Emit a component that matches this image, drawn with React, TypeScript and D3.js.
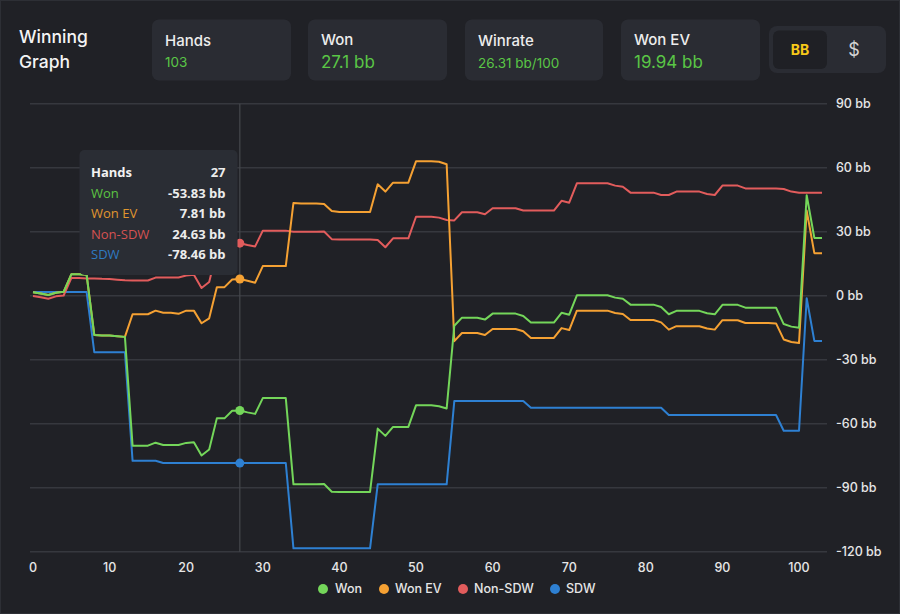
import React from "react";
import * as d3 from "d3";

// ---------- DATA ----------
const hands: number[] = Array.from({ length: 104 }, (_, i) => i);

const sdw: number[] = [
  1.7, 1.7, 1.7, 1.7, 1.7, 1.7, 1.7, 1.7,
  -26.5, -26.5, -26.5, -26.5, -26.5,
  -77.4, -77.4, -77.4, -77.4,
  -78.46, -78.46, -78.46, -78.46, -78.46, -78.46, -78.46, -78.46, -78.46, -78.46, -78.46, -78.46, -78.46, -78.46, -78.46, -78.46, -78.46,
  -118.4, -118.4, -118.4, -118.4, -118.4, -118.4, -118.4, -118.4, -118.4, -118.4, -118.4,
  -88.4, -88.4, -88.4, -88.4, -88.4, -88.4, -88.4, -88.4, -88.4, -88.4,
  -49.4, -49.4, -49.4, -49.4, -49.4, -49.4, -49.4, -49.4, -49.4, -49.4,
  -52.5, -52.5, -52.5, -52.5, -52.5, -52.5, -52.5, -52.5, -52.5, -52.5, -52.5, -52.5, -52.5, -52.5, -52.5, -52.5, -52.5, -52.5,
  -55.9, -55.9, -55.9, -55.9, -55.9, -55.9, -55.9, -55.9, -55.9, -55.9, -55.9, -55.9, -55.9, -55.9, -55.9,
  -63.3, -63.3, -63.3,
  -1.2,
  -21.2, -21.2,
];

const nonSdw: number[] = [
  -0.1, -0.7, -1.4, -0.3, 0.1, 8.3, 8.3, 8.1, 8.1, 7.9, 7.8, 7.5, 7.2,
  7.1, 7.1, 7.1, 8.5, 8.5, 8.5, 8.5, 9.5, 9.8, 3.6, 6.4, 21.0, 21.0, 24.6,
  24.63, 23.8, 23.1, 30.5, 30.5, 30.5, 30.5, 30.0, 30.0, 30.0, 30.0, 30.1,
  26.5, 26.4, 26.4, 26.4, 26.4, 26.4, 26.1, 22.7, 26.9, 26.9, 26.9, 37.0,
  37.0, 37.0, 36.6, 35.5, 35.3, 39.1, 39.1, 39.1, 38.2, 41.0, 41.0, 41.0,
  41.0, 39.9, 39.9, 39.9, 39.9, 39.9, 44.5, 43.6, 52.7, 52.7, 52.7, 52.7,
  52.7, 51.6, 51.1, 48.3, 48.3, 48.3, 48.3, 47.2, 47.2, 48.8, 48.8, 48.8,
  48.8, 47.7, 47.2, 51.6, 51.6, 51.6, 50.3, 50.3, 50.3, 50.3, 50.3, 50.0,
  48.8, 48.3, 48.3, 48.3, 48.3,
];

const won: number[] = [
  1.6, 1.0, 0.3, 1.4, 1.8, 10.0, 10.0, 9.8, -18.4, -18.6, -18.7, -19.0, -19.3,
  -70.3, -70.3, -70.3, -68.9, -70.0, -70.0, -70.0, -69.0, -68.7, -74.9, -72.1,
  -57.5, -57.5, -53.9, -53.83, -54.7, -55.4, -48.0, -48.0, -48.0, -48.0,
  -88.4, -88.4, -88.4, -88.4, -88.3, -91.9, -92.0, -92.0, -92.0, -92.0, -92.0,
  -62.3, -65.7, -61.5, -61.5, -61.5, -51.4, -51.4, -51.4, -51.8, -52.9,
  -14.1, -10.3, -10.3, -10.3, -11.2, -8.4, -8.4, -8.4, -8.4, -9.5, -12.6,
  -12.6, -12.6, -12.6, -8.0, -8.9, 0.2, 0.2, 0.2, 0.2, 0.2, -0.9, -1.4, -4.2,
  -4.2, -4.2, -4.2, -5.3, -8.7, -7.1, -7.1, -7.1, -7.1, -8.2, -8.7, -4.3,
  -4.3, -4.3, -5.6, -5.6, -5.6, -5.6, -5.6, -13.3, -14.5, -15.0, 47.1, 27.1,
  27.1,
];

const wonEv: number[] = [
  1.6, 1.0, 0.3, 1.4, 1.8, 10.0, 10.0, 9.8, -18.4, -18.6, -18.7, -19.0, -19.3,
  -8.7, -8.7, -8.7, -7.0, -8.0, -8.0, -8.5, -7.0, -7.0, -12.9, -10.6, 4.0,
  4.0, 7.6, 7.81, 7.0, 6.1, 13.9, 13.9, 13.9, 13.9, 43.5, 43.2, 43.2, 43.2,
  43.0, 39.7, 39.2, 39.2, 39.2, 39.2, 39.2, 52.2, 48.8, 53.0, 53.0, 53.0,
  63.0, 63.0, 63.0, 62.8, 61.6, -21.3, -17.5, -17.5, -17.5, -18.4, -15.6,
  -15.6, -15.6, -15.6, -16.7, -19.8, -19.8, -19.8, -19.8, -15.2, -16.1, -7.0,
  -7.0, -7.0, -7.0, -7.0, -8.1, -8.6, -11.4, -11.4, -11.4, -11.4, -12.5,
  -15.9, -14.3, -14.3, -14.3, -14.3, -15.4, -15.9, -11.5, -11.5, -11.5, -12.8,
  -12.8, -12.8, -12.8, -13.0, -20.5, -21.7, -22.2, 39.9, 19.94, 19.94,
];

const seriesNames = ["Won", "Won EV", "Non-SDW", "SDW"];
const yTicks = [-120, -90, -60, -30, 0, 30, 60, 90];
const xTicks = [0, 10, 20, 30, 40, 50, 60, 70, 80, 90, 100];
const hoverHand = 27;

const statLabels = ["Hands", "Won", "Winrate", "Won EV"];
const statValues = ["103", "27.1 bb", "26.31 bb/100", "19.94 bb"];

// ---------- STYLE ----------
const COLORS: Record<string, string> = {
  Won: "#74d65a",
  "Won EV": "#f5a133",
  "Non-SDW": "#e25c5c",
  SDW: "#2e80d2",
};
const TIP_COLORS: Record<string, string> = {
  Won: "#5cc443",
  "Won EV": "#e0962f",
  "Non-SDW": "#d55252",
  SDW: "#2f7ac2",
};
const FONT = "Inter, 'Open Sans', sans-serif";

export default function App() {
  const W = 900;
  const H = 614;
  const x = d3.scaleLinear().domain([0, 103]).range([33, 822]);
  const y = d3.scaleLinear().domain([-120, 90]).range([551.7, 103.7]);

  const seriesData: Record<string, number[]> = {
    Won: won,
    "Won EV": wonEv,
    "Non-SDW": nonSdw,
    SDW: sdw,
  };

  const line = d3
    .line<number>()
    .x((_, i) => x(hands[i]))
    .y((d) => y(d));

  const drawOrder = ["SDW", "Non-SDW", "Won EV", "Won"];

  const cards = [
    { x: 152, w: 139, lx: 165, lb: 46, vb: 67, vs: 13.5 },
    { x: 308, w: 139, lx: 321, lb: 44.5, vb: 68, vs: 17 },
    { x: 465, w: 138, lx: 478, lb: 46, vb: 67.5, vs: 13.5 },
    { x: 621, w: 139, lx: 634, lb: 44.5, vb: 68, vs: 17 },
  ];

  const legendPos = [
    { m: 323, t: 335 },
    { m: 384, t: 395 },
    { m: 463, t: 474 },
    { m: 555, t: 566 },
  ];

  const tipRows = [
    { label: "Hands", value: String(hoverHand), color: "#f2f2f2" },
    ...seriesNames.map((n) => ({
      label: n,
      value: `${seriesData[n][hoverHand].toFixed(2)} bb`,
      color: TIP_COLORS[n],
    })),
  ];

  return (
    <svg
      width={W}
      height={H}
      style={{ position: "fixed", left: 0, top: 0, display: "block" }}
      fontFamily={FONT}
    >
      <rect x={0} y={0} width={W} height={H} fill="#202126" />
      <rect x={0.5} y={0.5} width={W - 1} height={H - 1} fill="none" stroke="#2d2f35" />

      {/* Title */}
      <text x={19} y={43} fill="#f4f4f4" fontSize={17.5} fontWeight={500}>Winning</text>
      <text x={19} y={68} fill="#f4f4f4" fontSize={17.5} fontWeight={500}>Graph</text>

      {/* Stat cards */}
      {cards.map((c, i) => (
        <g key={i}>
          <rect x={c.x} y={19.5} width={c.w} height={61} rx={7} fill="#2a2c33" />
          <text x={c.lx} y={c.lb} fill="#ededed" fontSize={15} fontWeight={500}>
            {statLabels[i]}
          </text>
          <text x={c.lx} y={c.vb} fill="#5ac646" fontSize={c.vs} fontWeight={400}>
            {statValues[i]}
          </text>
        </g>
      ))}

      {/* Toggle */}
      <rect x={769} y={26} width={117} height={47} rx={8} fill="#2a2c33" />
      <rect x={773} y={30.5} width={54} height={38.5} rx={6} fill="#1f2025" />
      <text x={800} y={55} textAnchor="middle" fill="#f7c919" fontSize={14} fontWeight={700}>BB</text>
      <text x={854} y={56} textAnchor="middle" fill="#d4d4d4" fontSize={18} fontWeight={400}>$</text>

      {/* Grid */}
      {yTicks.map((t) => (
        <g key={t}>
          <line x1={30} x2={827} y1={y(t)} y2={y(t)} stroke="#36383e" strokeWidth={1.5} />
          <text x={836} y={y(t)} dy="0.35em" fill="#e6e6e6" fontSize={12.5} fontWeight={500}>
            {`${t} bb`}
          </text>
        </g>
      ))}
      {xTicks.map((t) => (
        <text key={t} x={x(t)} y={572} textAnchor="middle" fill="#e6e6e6" fontSize={12.5} fontWeight={500}>
          {t}
        </text>
      ))}

      {/* Crosshair */}
      <line x1={x(hoverHand)} x2={x(hoverHand)} y1={y(90)} y2={y(-120)} stroke="#45474d" strokeWidth={1.2} />

      {/* Lines */}
      {drawOrder.map((n) => (
        <path
          key={n}
          d={line(seriesData[n]) || ""}
          fill="none"
          stroke={COLORS[n]}
          strokeWidth={2}
          strokeLinejoin="round"
        />
      ))}

      {/* Hover dots */}
      {drawOrder.map((n) => (
        <circle key={n} cx={x(hoverHand)} cy={y(seriesData[n][hoverHand])} r={4.5} fill={COLORS[n]} />
      ))}

      {/* Tooltip */}
      <g>
        <rect x={79.5} y={150} width={158} height={125} rx={5} fill="#2a2d34" />
        {tipRows.map((r, i) => (
          <g key={r.label}>
            <text
              x={91}
              y={177 + i * 20.5}
              fill={r.color}
              fontSize={13}
              fontWeight={i === 0 ? 700 : 500}
              fontFamily="'Open Sans', sans-serif"
            >
              {r.label}
            </text>
            <text
              x={225.5}
              y={177 + i * 20.5}
              textAnchor="end"
              fill="#ececec"
              fontSize={13}
              fontWeight={700}
              fontFamily="'Open Sans', sans-serif"
            >
              {r.value}
            </text>
          </g>
        ))}
      </g>

      {/* Legend */}
      {seriesNames.map((n, i) => (
        <g key={n}>
          <circle cx={legendPos[i].m} cy={589} r={5} fill={COLORS[n]} />
          <text x={legendPos[i].t} y={589} dy="0.35em" fill="#e6e6e6" fontSize={12.5} fontWeight={500}>
            {n}
          </text>
        </g>
      ))}
    </svg>
  );
}
